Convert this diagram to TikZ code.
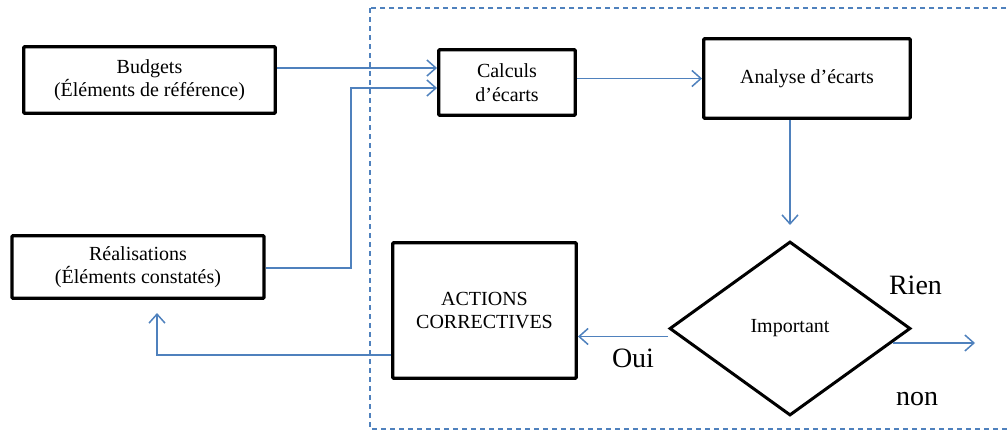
\documentclass[tikz,border=0pt]{standalone}
\usepackage{fontspec}
\setmainfont{Liberation Serif}
\usetikzlibrary{arrows.meta,shapes.geometric}
\definecolor{flowblue}{HTML}{4F81BD}
\begin{document}
\begin{tikzpicture}[x=1pt,y=-1pt,
  box/.style={draw=black,line width=3.4pt,rounded corners=1pt,fill=white,
    inner sep=0pt,align=center,font=\fontsize{20}{23.5}\selectfont},
  decision/.style={draw=black,line width=3pt,diamond,inner sep=0pt,
    font=\fontsize{20}{23}\selectfont},
  link/.style={draw=flowblue,line width=1.5pt,
    -{Straight Barb[length=9pt,width=16pt,line width=1.5pt]}},
  label/.style={font=\fontsize{28}{30}\selectfont,anchor=base}]
\useasboundingbox (0,0) rectangle (1008,431);

% control perimeter
\draw[flowblue,line width=1.5pt,dash pattern=on 5pt off 4pt]
  (370,8) rectangle (1014,429);

% boxes
\node[box,minimum width=251.5pt,minimum height=66.5pt] (budget) at (149.5,80)
  {Budgets\\(Éléments de référence)};
\node[box,minimum width=252pt,minimum height=62.5pt] (real) at (138,267)
  {Réalisations\\(Éléments constatés)};
\node[box,minimum width=136.5pt,minimum height=65.5pt] (calc) at (507,82.5)
  {Calculs\\d’écarts};
\node[box,minimum width=206.5pt,minimum height=79.5pt] (anal) at (807,78.5)
  {Analyse d’écarts};
\node[box,minimum width=183.5pt,minimum height=135.5pt] (act) at (484.5,310.5)
  {ACTIONS\\CORRECTIVES};
\node[decision,minimum width=241pt,minimum height=174pt] (dia) at (790,328.5)
  {Important};

% free ends and bends
\coordinate (bend) at (351,88);
\coordinate (back) at (157,313);
\coordinate (out) at (975,343);
\coordinate (yes) at ([yshift=-8pt]dia.west);

% connectors
\draw[link] ([yshift=12pt]budget.east) -- ([yshift=14.5pt]calc.west);
\draw[link] ([yshift=-1pt]real.east) -| (bend) -- ([yshift=-5.5pt]calc.west);
\draw[link] (calc.east |- anal.west) -- (anal.west);
\draw[link] (anal.south -| dia.north) -- ([yshift=15pt]dia.north);
\draw[link] (yes) -- (act.east |- yes);
\draw[link] ([xshift=-19pt,yshift=-14.5pt]dia.east) -- (out);
\draw[link] ([yshift=-44.5pt]act.west) -| (back);

% branch labels
\node[label] (rien) at (915.5,294) {Rien};
\node[label] (oui) at (633,367) {Oui};
\node[label] (non) at (917,405) {non};
\end{tikzpicture}
\end{document}
